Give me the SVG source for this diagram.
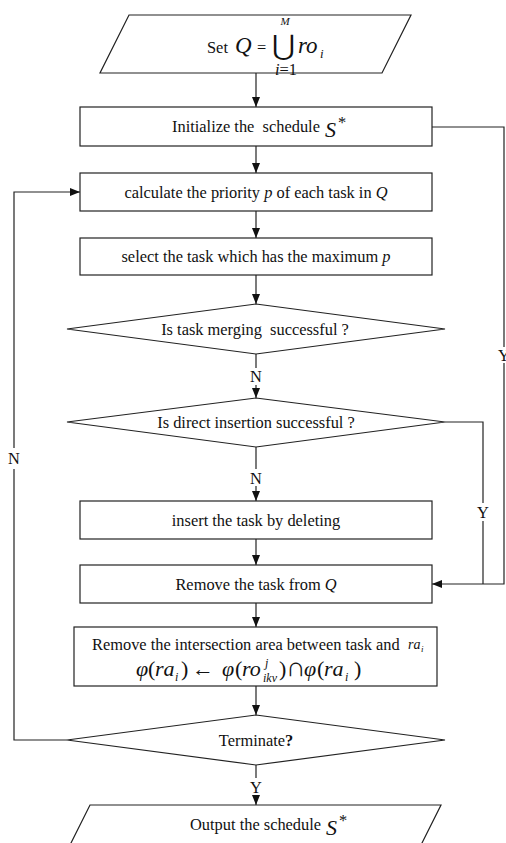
<svg xmlns="http://www.w3.org/2000/svg" width="506" height="843" viewBox="0 0 506 843">
<style>
.s{fill:#fff;stroke:#222;stroke-width:1.2}
.c{fill:none;stroke:#222;stroke-width:1.2}
.t{font-family:"Liberation Serif","Times New Roman",serif;font-size:16.4px;fill:#111}
.m{font-family:"Liberation Serif","Times New Roman",serif;font-style:italic;fill:#111}
.pre{white-space:pre}
</style>
<defs>
<marker id="ah" markerUnits="userSpaceOnUse" markerWidth="10" markerHeight="8" refX="10" refY="4" orient="auto">
<path d="M0,0 L10,4 L0,8 z" fill="#111"/>
</marker>
</defs>
<rect width="506" height="843" fill="#fff"/>

<g id="connectors">
<line class="c" x1="256" y1="73" x2="256" y2="107" marker-end="url(#ah)"/>
<line class="c" x1="256" y1="146" x2="256" y2="173" marker-end="url(#ah)"/>
<line class="c" x1="256" y1="211" x2="256" y2="238" marker-end="url(#ah)"/>
<line class="c" x1="256" y1="275" x2="256" y2="304" marker-end="url(#ah)"/>
<line class="c" x1="256" y1="354" x2="256" y2="368"/>
<line class="c" x1="256" y1="385" x2="256" y2="398" marker-end="url(#ah)"/>
<line class="c" x1="256" y1="447" x2="256" y2="469"/>
<line class="c" x1="256" y1="486" x2="256" y2="501" marker-end="url(#ah)"/>
<line class="c" x1="256" y1="539" x2="256" y2="565" marker-end="url(#ah)"/>
<line class="c" x1="256" y1="603" x2="256" y2="627" marker-end="url(#ah)"/>
<line class="c" x1="256" y1="686" x2="256" y2="715" marker-end="url(#ah)"/>
<line class="c" x1="256" y1="765" x2="256" y2="778"/>
<line class="c" x1="256" y1="795" x2="256" y2="805" marker-end="url(#ah)"/>
<polyline class="c" points="432,127 504,127 504,347"/>
<polyline class="c" points="504,363 504,584 432,584" marker-end="url(#ah)"/>
<polyline class="c" points="445,422 483,422 483,503"/>
<line class="c" x1="483" y1="521" x2="483" y2="584"/>
<polyline class="c" points="67,740 14,740 14,469"/>
<polyline class="c" points="14,448 14,192 80,192" marker-end="url(#ah)"/>
<text class="t" x="256" y="381.5" text-anchor="middle">N</text>
<text class="t" x="256" y="483.5" text-anchor="middle">N</text>
<text class="t" x="256" y="792.5" text-anchor="middle">Y</text>
<text class="t" x="504" y="360.5" text-anchor="middle">Y</text>
<text class="t" x="483" y="517.5" text-anchor="middle">Y</text>
<text class="t" x="14" y="463.5" text-anchor="middle">N</text>
</g>

<g id="start">
<polygon class="s" points="129,15 411,15 382,73 100,73"/>
<text class="t" x="207" y="53" font-size="17">Set</text>
<text class="m" x="235" y="53" font-size="23">Q</text>
<text class="t" x="257" y="53" font-size="22">=</text>
<text x="283.5" y="55" text-anchor="middle" font-family="DejaVu Serif, serif" font-size="28" fill="#111">⋃</text>
<text class="m" x="285" y="25" font-size="11" text-anchor="middle">M</text>
<text class="t" x="286" y="74.5" font-size="11" text-anchor="middle"><tspan font-style="italic">i</tspan>=1</text>
<text class="m" x="298" y="53" font-size="23">ro</text>
<text class="m" x="320" y="58" font-size="13">i</text>
</g>

<g id="init">
<rect class="s" x="80" y="107" width="352" height="39"/>
<text class="t pre" x="172" y="132">Initialize the  schedule</text>
<text class="m" x="325" y="137" font-size="22">S</text>
<text class="t" x="338" y="128" font-size="14">*</text>
</g>

<g id="calc">
<rect class="s" x="80" y="173" width="352" height="38"/>
<text class="t" x="256" y="197.5" text-anchor="middle">calculate the priority <tspan font-style="italic">p</tspan> of each task in <tspan font-style="italic">Q</tspan></text>
</g>

<g id="select">
<rect class="s" x="80" y="238" width="352" height="37"/>
<text class="t" x="256" y="262" text-anchor="middle">select the task which has the maximum <tspan font-style="italic">p</tspan></text>
</g>

<g id="merge">
<polygon class="s" points="256,304 445,329 256,354 67,329"/>
<text class="t pre" x="255" y="334.5" text-anchor="middle">Is task merging  successful ?</text>
</g>

<g id="direct">
<polygon class="s" points="256,398 445,422 256,447 67,422"/>
<text class="t" x="256" y="427.5" text-anchor="middle">Is direct insertion successful ?</text>
</g>

<g id="insert">
<rect class="s" x="80" y="501" width="352" height="38"/>
<text class="t" x="256" y="525.5" text-anchor="middle">insert the task by deleting</text>
</g>

<g id="remove">
<rect class="s" x="80" y="565" width="352" height="38"/>
<text class="t" x="256" y="589.5" text-anchor="middle">Remove the task from <tspan font-style="italic">Q</tspan></text>
</g>

<g id="intersect">
<rect class="s" x="74" y="627" width="363" height="59"/>
<text class="t" x="92" y="650">Remove the intersection area between task and</text>
<text class="m" x="408" y="649" font-size="14">ra</text>
<text class="m" x="421" y="652" font-size="9">i</text>
<text class="m" font-size="22" y="676"><tspan x="136">φ</tspan><tspan x="148" font-style="normal">(</tspan><tspan x="155">ra</tspan><tspan x="181" font-style="normal">)</tspan><tspan x="192" font-style="normal">←</tspan><tspan x="222">φ</tspan><tspan x="235" font-style="normal">(</tspan><tspan x="242">ro</tspan><tspan x="279" font-style="normal">)</tspan><tspan x="286" font-style="normal" font-size="27">∩</tspan><tspan x="304">φ</tspan><tspan x="317" font-style="normal">(</tspan><tspan x="324">ra</tspan><tspan x="354" font-style="normal">)</tspan></text>
<text class="m" x="175" y="681" font-size="12">i</text>
<text class="m" x="265" y="667" font-size="12">j</text>
<text class="m" x="263" y="682" font-size="12">ikv</text>
<text class="m" x="345" y="681" font-size="12">i</text>
</g>

<g id="terminate">
<polygon class="s" points="256,715 445,740 256,765 67,740"/>
<text class="t" x="256" y="745.5" text-anchor="middle">Terminate<tspan font-weight="bold">?</tspan></text>
</g>

<g id="output">
<polygon class="s" points="90,805 441,805 412,863 61,863"/>
<text class="t" x="190" y="830">Output the schedule</text>
<text class="m" x="326" y="835" font-size="22">S</text>
<text class="t" x="339" y="826" font-size="14">*</text>
</g>
</svg>
